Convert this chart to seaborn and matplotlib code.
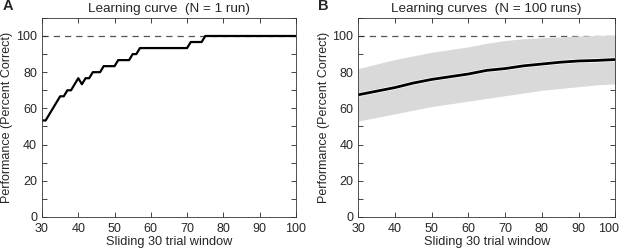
import numpy as np
import pandas as pd
import seaborn as sns
from matplotlib import pyplot as plt
from matplotlib.ticker import MultipleLocator
import matplotlib.transforms as mtransforms
import matplotlib.patheffects as pe

# panel A: single run, percent correct in a sliding 30 trial window
trials_a = list(range(30, 101))
correct_a = [16, 16, 17, 18, 19, 20, 20, 21, 21, 22, 23, 22, 23, 23, 24, 24, 24, 25, 25, 25,
             25, 26, 26, 26, 26, 27, 27, 28, 28, 28, 28, 28, 28, 28, 28, 28, 28, 28, 28, 28,
             28, 29, 29, 29, 29, 30] + [30] * 25
perf_a = [c / 30 * 100 for c in correct_a]

# panel B: mean of 100 runs with +/- 1 sd band
trials_b = [30, 35, 40, 45, 50, 55, 60, 65, 70, 75, 80, 85, 90, 95, 100]
mean_b = [67.5, 69.5, 71.5, 74.0, 76.0, 77.5, 79.0, 81.0, 82.0, 83.5, 84.5, 85.5, 86.2, 86.5, 87.0]
upper_b = [82.0, 84.5, 87.0, 89.0, 91.0, 92.5, 94.0, 96.0, 97.5, 98.5, 99.0, 99.5, 100.0, 100.3, 100.5]
lower_b = [53.0, 55.0, 57.0, 59.0, 61.0, 62.5, 64.0, 65.5, 67.0, 68.5, 70.0, 71.0, 72.0, 73.0, 73.5]

xticks = [30, 40, 50, 60, 70, 80, 90, 100]

sns.set_style('ticks')
plt.rcParams['font.family'] = ['Liberation Sans', 'DejaVu Sans']

fig = plt.figure(figsize=(6.24, 2.52), dpi=100)
ax_a = fig.add_axes([0.0673, 0.139, 0.407, 0.79])
ax_b = fig.add_axes([0.574, 0.139, 0.412, 0.79])

df_a = pd.DataFrame({'x': trials_a, 'y': perf_a})
sns.lineplot(data=df_a, x='x', y='y', ax=ax_a, color='black', linewidth=1.6)

df_b = pd.DataFrame({'x': trials_b, 'mean': mean_b, 'lo': lower_b, 'hi': upper_b})
ax_b.fill_between(df_b['x'], df_b['lo'], df_b['hi'], color='#d9d9d9', linewidth=0)
sns.lineplot(data=df_b, x='x', y='mean', ax=ax_b, color='black', linewidth=2,
             path_effects=[pe.Stroke(linewidth=3, foreground='white'), pe.Normal()])

titles = ['Learning curve  (N = 1 run)', 'Learning curves  (N = 100 runs)']
for ax, title, letter in zip([ax_a, ax_b], titles, ['A', 'B']):
    ax.axhline(100, color='#555555', linestyle=(0, (5, 4)), linewidth=0.9, zorder=0.5)
    ax.set_xlim(30, 100)
    ax.set_ylim(0, 110)
    ax.set_xticks(xticks)
    ax.yaxis.set_major_locator(MultipleLocator(20))
    ax.yaxis.set_minor_locator(MultipleLocator(10))
    ax.tick_params(which='both', direction='in', top=True, right=True, labelsize=9,
                   width=0.6)
    ax.tick_params(axis='x', pad=4)
    ax.tick_params(which='major', length=3.5)
    ax.tick_params(which='minor', length=3.5)
    for s in ax.spines.values():
        s.set_linewidth(0.6)
        s.set_color('#333333')
    ax.set_xlabel('Sliding 30 trial window', fontsize=9.2, labelpad=1)
    ax.set_ylabel('Performance (Percent Correct)', fontsize=9, labelpad=2)
    ax.set_title(title, fontsize=9.7, pad=4)
    ax.text(-0.155, 1.025, letter, transform=ax.transAxes, fontsize=10.5, fontweight='bold',
            va='bottom', ha='left')

# last tick label of panel B sits inside the figure edge, as in the original
last = ax_b.xaxis.get_major_ticks()[-1].label1
last.set_horizontalalignment('right')
last.set_transform(last.get_transform() + mtransforms.ScaledTranslation(4 / 100, 0, fig.dpi_scale_trans))

fig.savefig('out.png', dpi=100)
